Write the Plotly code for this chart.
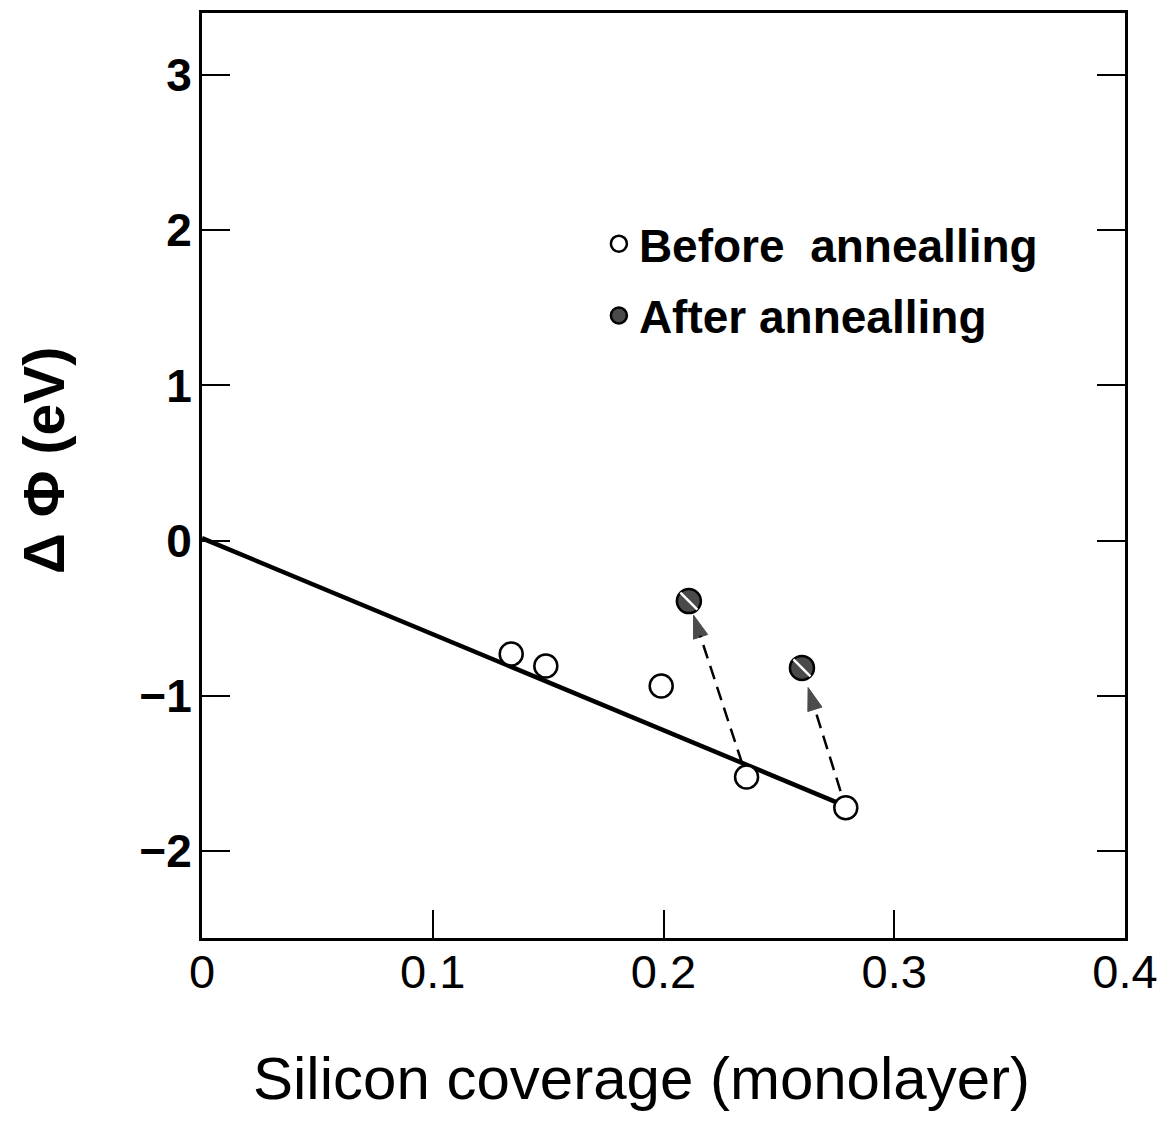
import plotly.graph_objects as go

# Work-function change versus silicon coverage
before_x = [0.134, 0.149, 0.199, 0.236, 0.279]
before_y = [-0.730, -0.808, -0.936, -1.522, -1.721]

after_x = [0.211, 0.260]
after_y = [-0.389, -0.820]

# Linear fit drawn from the origin
fit_x = [0.0, 0.2756]
fit_y = [0.016, -1.689]

# Annealing shifts: index into before_* -> index into after_*
shift_pairs = [(3, 0), (4, 1)]
# fraction of each segment trimmed at tail / head so the arrows clear the markers
shift_trim = [(0.08, 0.92), (0.12, 0.86)]

x_ticks = [0, 0.1, 0.2, 0.3, 0.4]
x_tick_text = ["0", "0.1", "0.2", "0.3", "0.4"]
y_ticks = [-2, -1, 0, 1, 2, 3]

FONT = "Liberation Sans, Arial, Helvetica, sans-serif"

fig = go.Figure()

fig.add_trace(go.Scatter(
    x=fit_x, y=fit_y, mode="lines",
    line=dict(color="black", width=4.5),
    showlegend=False, hoverinfo="skip",
))

for (bi, ai), (t0, t1) in zip(shift_pairs, shift_trim):
    x0, y0 = before_x[bi], before_y[bi]
    x1, y1 = after_x[ai], after_y[ai]
    xs = [x0 + (x1 - x0) * t0, x0 + (x1 - x0) * t1]
    ys = [y0 + (y1 - y0) * t0, y0 + (y1 - y0) * t1]
    fig.add_trace(go.Scatter(
        x=xs, y=ys, mode="lines+markers",
        line=dict(color="black", width=2.5, dash="14px,8px"),
        marker=dict(symbol="arrow", size=[0, 24], angleref="previous",
                    color="black", line=dict(color="black", width=1)),
        showlegend=False, hoverinfo="skip",
    ))

fig.add_trace(go.Scatter(
    x=before_x, y=before_y, mode="markers",
    name="Before  annealling", legendgroup="before",
    marker=dict(symbol="circle", size=23, color="white",
                line=dict(color="black", width=2.5)),
))

fig.add_trace(go.Scatter(
    x=after_x, y=after_y, mode="markers",
    name="After annealling", legendgroup="after",
    marker=dict(symbol="circle", size=24, color="#4a4a4a",
                line=dict(color="black", width=2.5)),
))

# light diagonal stripe giving the shaded markers a hatched look
fig.add_trace(go.Scatter(
    x=after_x, y=after_y, mode="markers",
    marker=dict(symbol="line-nw", size=17, color="white",
                line=dict(color="white", width=2.5)),
    showlegend=False, hoverinfo="skip",
))

axis_common = dict(
    showgrid=False, zeroline=False, automargin=False,
    showline=True, linecolor="black", linewidth=3, mirror=True,
    ticks="inside", ticklen=28, tickwidth=2, tickcolor="black",
)

fig.update_xaxes(range=[0, 0.4], tickvals=x_ticks, ticktext=x_tick_text,
                 tickfont=dict(family=FONT, size=47, color="black"),
                 ticklabelstandoff=-9, **axis_common)
fig.update_yaxes(range=[-2.56, 3.40], tickvals=y_ticks,
                 tickfont=dict(family=FONT, size=46, color="black",
                               weight="bold"),
                 ticklabelstandoff=-2, **axis_common)
fig.update_yaxes(mirror="ticks")

fig.add_annotation(
    text="Silicon coverage (monolayer)", xref="paper", yref="paper",
    x=0.476, y=-0.113, xanchor="center", yanchor="top", showarrow=False,
    font=dict(family=FONT, size=60, color="black"),
)
fig.add_annotation(
    text="Δ Φ (eV)", xref="paper", yref="paper",
    x=-0.172, y=0.516, xanchor="center", yanchor="middle", showarrow=False,
    textangle=-90,
    font=dict(family=FONT, size=57, color="black", weight="bold"),
)

fig.update_layout(
    width=1159, height=1138,
    margin=dict(l=202, r=34, t=13, b=200),
    paper_bgcolor="white", plot_bgcolor="white",
    legend=dict(
        x=0.43, y=0.79, xanchor="left", yanchor="top",
        font=dict(family=FONT, size=46, color="black", weight="bold"),
        bgcolor="rgba(0,0,0,0)", itemsizing="trace", tracegroupgap=9,
    ),
)

fig.write_html("out.html")
